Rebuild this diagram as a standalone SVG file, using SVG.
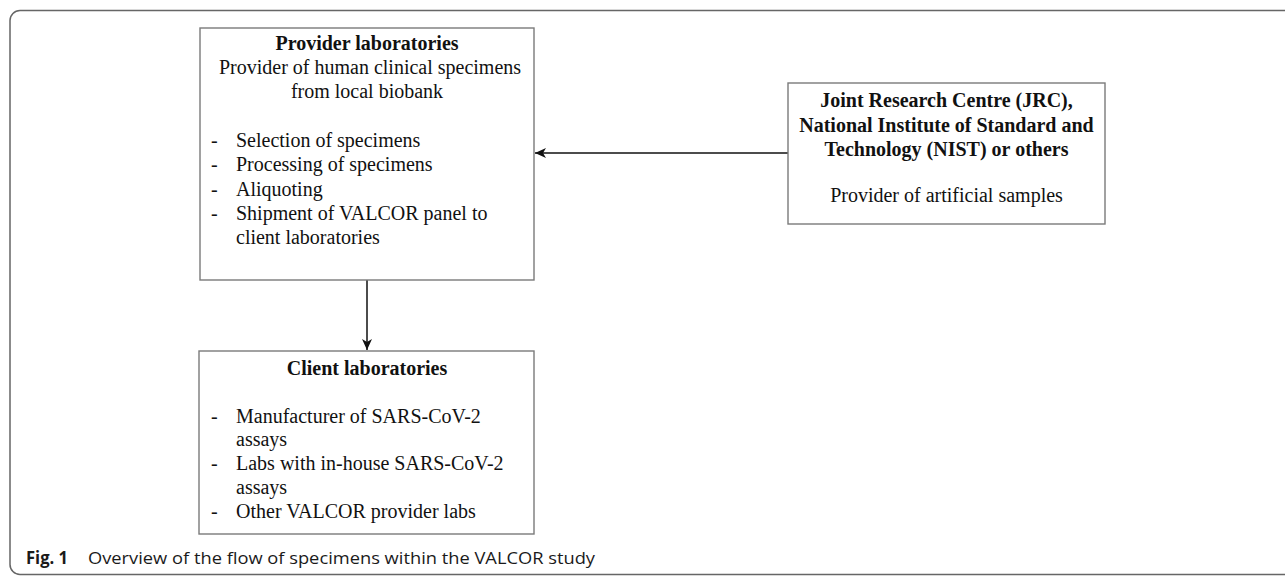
<svg xmlns="http://www.w3.org/2000/svg" width="1285" height="576" viewBox="0 0 1285 576">
  <style>
    .box { fill: #ffffff; stroke: #7a7a7a; stroke-width: 1.4; }
    .t { font-family: "Liberation Serif", "Times New Roman", serif; font-size: 20px; fill: #111111; }
    .b { font-weight: bold; }
    .c { text-anchor: middle; }
    .conn { stroke: #111111; stroke-width: 1.5; fill: none; }
    .cap { font-family: "Open Sans", "Liberation Sans", sans-serif; font-size: 17px; fill: #1a1a1a; }
  </style>
  <defs>
    <marker id="arr" markerUnits="userSpaceOnUse" markerWidth="14" markerHeight="12" refX="11" refY="5" orient="auto">
      <path d="M0,0 L11,5 L0,10 L3,5 Z" fill="#111111"/>
    </marker>
  </defs>
  <rect width="1285" height="576" fill="#ffffff"/>
  <rect id="frame" x="10" y="10.5" width="1300" height="564" rx="10" ry="10" fill="none" stroke="#666666" stroke-width="1.5"/>

  <g id="connectors">
    <line class="conn" x1="788" y1="153" x2="535" y2="153" marker-end="url(#arr)"/>
    <line class="conn" x1="367" y1="280" x2="367" y2="350" marker-end="url(#arr)"/>
  </g>

  <g id="provider">
    <rect class="box" x="200" y="28" width="334" height="252"/>
    <text class="t b c" x="367" y="50">Provider laboratories</text>
    <text class="t c" x="370" y="74">Provider of human clinical specimens</text>
    <text class="t c" x="367" y="98">from local biobank</text>
    <text class="t" x="211" y="147">-</text>
    <text class="t" x="236" y="147">Selection of specimens</text>
    <text class="t" x="211" y="171">-</text>
    <text class="t" x="236" y="171">Processing of specimens</text>
    <text class="t" x="211" y="196">-</text>
    <text class="t" x="236" y="196">Aliquoting</text>
    <text class="t" x="211" y="220">-</text>
    <text class="t" x="236" y="220">Shipment of VALCOR panel to</text>
    <text class="t" x="236" y="244">client laboratories</text>
  </g>

  <g id="jrc">
    <rect class="box" x="788" y="83" width="317" height="141"/>
    <text class="t b c" x="946.5" y="107">Joint Research Centre (JRC),</text>
    <text class="t b c" x="946.5" y="132">National Institute of Standard and</text>
    <text class="t b c" x="946.5" y="156">Technology (NIST) or others</text>
    <text class="t c" x="946.5" y="202">Provider of artificial samples</text>
  </g>

  <g id="client">
    <rect class="box" x="199" y="351" width="335" height="183"/>
    <text class="t b c" x="367" y="375">Client laboratories</text>
    <text class="t" x="211" y="423">-</text>
    <text class="t" x="236" y="423">Manufacturer of SARS-CoV-2</text>
    <text class="t" x="236" y="446">assays</text>
    <text class="t" x="211" y="470">-</text>
    <text class="t" x="236" y="470">Labs with in-house SARS-CoV-2</text>
    <text class="t" x="236" y="494">assays</text>
    <text class="t" x="211" y="518">-</text>
    <text class="t" x="236" y="518">Other VALCOR provider labs</text>
  </g>

  <g id="caption">
    <text class="cap" x="26" y="564" font-weight="bold" font-size="18" textLength="42" lengthAdjust="spacingAndGlyphs">Fig. 1</text>
    <text class="cap" x="88" y="564" textLength="507" lengthAdjust="spacingAndGlyphs">Overview of the flow of specimens within the VALCOR study</text>
  </g>
</svg>
